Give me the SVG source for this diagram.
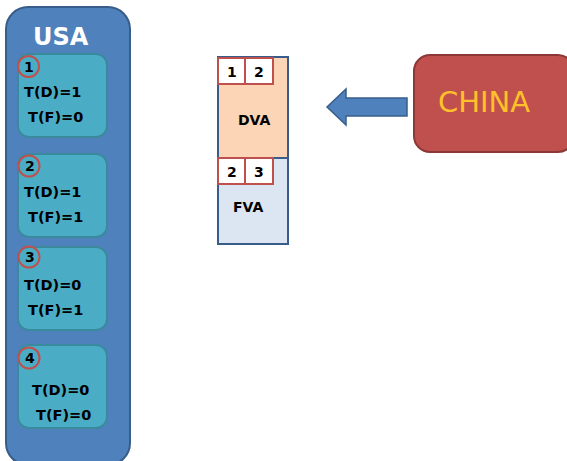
<svg xmlns="http://www.w3.org/2000/svg" width="567" height="461" viewBox="0 0 567 461">
<style>
.t{font-family:"DejaVu Sans",Verdana,sans-serif;font-weight:bold;font-size:14.5px;fill:#000}
.n{font-family:"DejaVu Sans",Verdana,sans-serif;font-weight:bold;font-size:14px;fill:#000}
.card{fill:#4BACC6;stroke:#3A8A9E;stroke-width:2}
.circ{fill:none;stroke:#C0504D;stroke-width:2}
.sq{fill:#fff;stroke:#C0504D;stroke-width:2}
</style>
<rect width="567" height="461" fill="#fff"/>
<g id="usa">
<rect x="6" y="7" width="124" height="458" rx="22" fill="#4F81BD" stroke="#385D8A" stroke-width="2"/>
<text x="33" y="45" font-family="DejaVu Sans,Verdana,sans-serif" font-weight="bold" font-size="24" fill="#fff">USA</text>
</g>
<g id="t1">
<rect class="card" x="18" y="54" width="89" height="83" rx="11"/>
<circle class="circ" cx="28.5" cy="66.5" r="10.5"/>
<text class="n" x="24" y="72">1</text>
<text class="t" x="24" y="97">T(D)=1</text>
<text class="t" x="28" y="122">T(F)=0</text>
</g>
<g id="t2">
<rect class="card" x="18" y="154" width="89" height="83" rx="11"/>
<circle class="circ" cx="29" cy="166" r="10.5"/>
<text class="n" x="25" y="171">2</text>
<text class="t" x="24" y="197">T(D)=1</text>
<text class="t" x="28" y="222">T(F)=1</text>
</g>
<g id="t3">
<rect class="card" x="18" y="247" width="89" height="83" rx="11"/>
<circle class="circ" cx="29" cy="257" r="10.5"/>
<text class="n" x="25" y="262">3</text>
<text class="t" x="24" y="290">T(D)=0</text>
<text class="t" x="28" y="315">T(F)=1</text>
</g>
<g id="t4">
<rect class="card" x="18" y="345" width="89" height="83" rx="11"/>
<circle class="circ" cx="29" cy="358" r="10.5"/>
<text class="n" x="25" y="363">4</text>
<text class="t" x="32" y="395">T(D)=0</text>
<text class="t" x="36" y="420">T(F)=0</text>
</g>
<g id="va">
<rect x="218" y="57" width="70" height="101" fill="#FBD5B5" stroke="#385D8A" stroke-width="2"/>
<rect x="218" y="158" width="70" height="86" fill="#DCE6F2" stroke="#385D8A" stroke-width="2"/>
<rect class="sq" x="218" y="58" width="27" height="26"/>
<rect class="sq" x="245" y="58" width="28" height="26"/>
<text class="n" x="227" y="77">1</text>
<text class="n" x="254" y="77">2</text>
<rect class="sq" x="218" y="158" width="27" height="26"/>
<rect class="sq" x="245" y="158" width="28" height="26"/>
<text class="n" x="227" y="177">2</text>
<text class="n" x="254" y="177">3</text>
<text class="n" x="238" y="125">DVA</text>
<text class="n" x="233" y="212">FVA</text>
</g>
<g id="connectors">
<polygon points="407,98 346,98 346,89 327,107 346,125 346,116 407,116" fill="#4F81BD" stroke="#385D8A" stroke-width="1.5"/>
</g>
<g id="china">
<rect x="414" y="55" width="160" height="97" rx="16" fill="#C0504D" stroke="#8C3836" stroke-width="2"/>
<text x="438" y="112" font-family="DejaVu Sans,Verdana,sans-serif" font-size="29" fill="#FFC02A">CHINA</text>
</g>
</svg>
